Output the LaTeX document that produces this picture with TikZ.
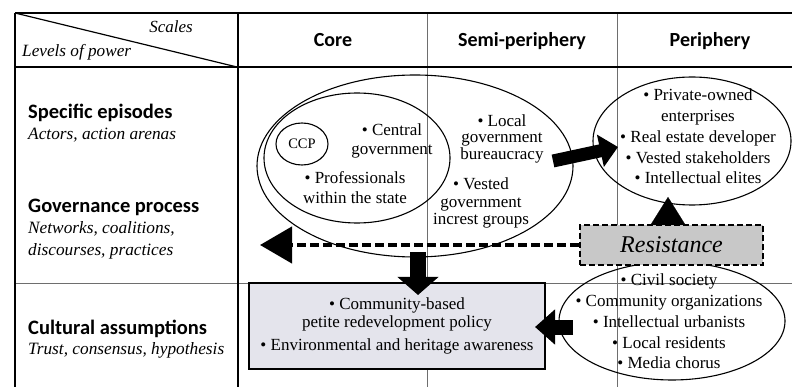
\documentclass[tikz,border=0pt]{standalone}
\usepackage{fontspec}
\setmainfont{Liberation Serif}
\newfontfamily\calibri{Carlito}
\usetikzlibrary{arrows.meta,shapes.geometric}
\definecolor{boxfill}{RGB}{228,228,236}
\definecolor{resfill}{RGB}{200,200,200}
\definecolor{rulegray}{RGB}{110,110,110}
\begin{document}
\begin{tikzpicture}[x=1pt,y=-1pt,
  hdr/.style={font=\calibri\bfseries\fontsize{20}{24}\selectfont, anchor=base, inner sep=0},
  lvl/.style={font=\calibri\bfseries\fontsize{20.5}{24}\selectfont, anchor=base west, inner sep=0},
  sub/.style={font=\itshape\fontsize{17.3}{20}\selectfont, anchor=base west, inner sep=0},
  txt/.style={align=center, inner sep=0},
  oval/.style={draw, ellipse, line width=1.1pt, inner sep=0},
  thickrule/.style={line width=2pt},
  thinrule/.style={line width=0.8pt, draw=rulegray},
  blockarrow/.style={line width=#1, line cap=butt},
]
\useasboundingbox (0,0) rectangle (792,387);

% ---- table grid ----
\draw[thinrule] (427,12.7) -- (427,387);
\draw[thinrule] (617,12.7) -- (617,387);
\draw[thinrule] (15,283) -- (792,283);
\draw[thickrule] (15,12.7) -- (792,12.7);
\draw[line width=1.5pt] (15,12.7) -- (15,387);
\draw[thickrule] (15,67) -- (792,67);
\draw[thickrule] (238,12.7) -- (238,387);
\draw[line width=1.2pt] (15,13) -- (237,67);

% ---- header ----
\node[font=\itshape\fontsize{17}{20}\selectfont, anchor=base, inner sep=0] (scales) at (171,33) {Scales};
\node[font=\itshape\fontsize{17.2}{20}\selectfont, anchor=base west, inner sep=0] (levels) at (22,57) {Levels of power};
\node[hdr] (core) at (333,47) {Core};
\node[hdr] (semi) at (522,47) {Semi-periphery};
\node[hdr] (peri) at (710,47) {Periphery};

% ---- left column ----
\node[lvl] (spec) at (28,119) {Specific episodes};
\node[sub] (specs) at (28,140) {Actors, action arenas};
\node[lvl] (gov) at (28,213) {Governance process};
\node[sub] (govs1) at (28,234) {Networks, coalitions,};
\node[sub] (govs2) at (28,255) {discourses, practices};
\node[lvl] (cult) at (28,334) {Cultural assumptions};
\node[sub] (cults) at (28,354) {Trust, consensus, hypothesis};

% ---- ellipses ----
\node[oval, minimum width=316pt, minimum height=182pt] (outer) at (415,166) {};
\node[oval, minimum width=186pt, minimum height=130pt] (inner) at (357,158) {};
\node[oval, minimum width=52pt, minimum height=42pt, font=\fontsize{14.5}{16}\selectfont] (ccp) at (302,144) {CCP};
\node[oval, minimum width=198pt, minimum height=128pt] (perell) at (692,141) {};
\node[oval, minimum width=226pt, minimum height=118pt] (civell) at (672,321) {};

% ---- texts in ellipses ----
\node[txt, font=\fontsize{17}{18.5}\selectfont] (cg) at (392,141) {• Central\\government};
\node[txt, font=\fontsize{17}{20}\selectfont] (prof) at (355,188) {• Professionals\\within the state};
\node[txt, font=\fontsize{17}{16.5}\selectfont] (lgb) at (502,138.5) {• Local\\government\\bureaucracy};
\node[txt, font=\fontsize{17}{17.5}\selectfont] (vgi) at (481,203) {• Vested\\government\\increst groups};
\node[txt, font=\fontsize{17}{20.75}\selectfont] (pertxt) at (698,136.5) {• Private-owned\\enterprises\\• Real estate developer\\• Vested stakeholders\\• Intellectual elites};
\node[txt, font=\fontsize{17}{20.75}\selectfont] (civtxt) at (669,321.5) {• Civil society\\• Community organizations\\• Intellectual urbanists\\• Local residents\\• Media chorus};

% ---- boxes ----
\node[draw, line width=1.8pt, fill=boxfill, minimum width=296pt, minimum height=86pt, align=center, inner sep=0, font=\fontsize{17}{18}\selectfont] (policy) at (397,326) {• Community-based\\petite redevelopment policy\\[5pt]• Environmental and heritage awareness};
\node[draw, line width=2.5pt, dash pattern=on 6pt off 3pt, fill=resfill, minimum width=183pt, minimum height=40pt, inner sep=0, font=\itshape\fontsize{24}{28}\selectfont] (resist) at (671.5,245) {Resistance};

% ---- arrows ----
\coordinate (dashEnd) at (260,245);
\draw[line width=4.5pt, dash pattern=on 9pt off 4pt, -{Triangle[length=32pt,width=36pt]}] (resist.west) -- (dashEnd);

\coordinate (upTip) at (668,197);
\draw[line width=0.1pt, -{Triangle[length=28pt,width=35pt]}] (upTip |- resist.north) -- (upTip);

\coordinate (downStart) at (418,252);
\coordinate (downTip) at (418,295);
\draw[blockarrow=16pt, -{Triangle[length=18pt,width=40pt]}] (downStart) -- (downTip);

\coordinate (rightStart) at (553,161);
\coordinate (rightTip) at (618,147);
\draw[blockarrow=13pt, -{Triangle[length=18pt,width=32pt]}] (rightStart) -- (rightTip);

\coordinate (leftStart) at (573,327);
\coordinate (leftTip) at (535,327);
\draw[blockarrow=15pt, -{Triangle[length=20pt,width=34pt]}] (leftStart) -- (leftTip);
\end{tikzpicture}
\end{document}
